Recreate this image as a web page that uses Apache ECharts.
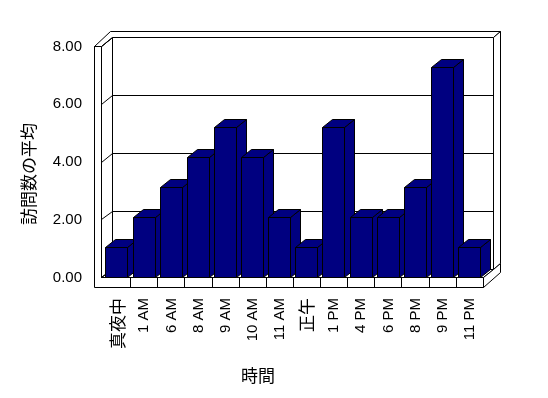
<html>
<head>
<meta charset="utf-8">
<script src="https://cdn.jsdelivr.net/npm/echarts@6/dist/echarts.min.js"></script>
<style>
    body { margin: 0; background: #fff; }
    #chart { width: 548px; height: 398px; }
</style>
</head>
<body>
<div id="chart"></div>
<script>
    // data
    const hours = ['真夜中', '1 AM', '6 AM', '8 AM', '9 AM', '10 AM', '11 AM', '正午', '1 PM', '4 PM', '6 PM', '8 PM', '9 PM', '11 PM'];
    const visits = [1, 2, 3, 4, 5, 4, 2, 1, 5, 2, 2, 3, 7, 1];
    const yTicks = [0, 2, 4, 6, 8];
    const xName = '時間';
    const yName = '訪問数の平均';

    const FONT = "'Liberation Sans', 'Noto Sans CJK JP', sans-serif";
    const CJK = "'Noto Sans CJK JP', sans-serif";
    const NAVY = '#000080';
    const DX = 10, DY = -8;   // depth of a bar

    const yMin = yTicks[0], yMax = yTicks[yTicks.length - 1], yStep = yTicks[1] - yTicks[0];

    const chart = echarts.init(document.getElementById('chart'), null, { renderer: 'canvas' });

    const option = {
        animation: false,
        backgroundColor: '#fff',
        textStyle: { fontFamily: FONT, color: '#000' },
        grid: [
            // bars (middle of the depth)
            { left: 103.6, top: 37.5, width: 379.7, height: 240, outerBoundsMode: 'none' },
            // front edge of the left wall: value labels
            { left: 94, top: 46.5, width: 10, height: 231, outerBoundsMode: 'none' },
            // back wall: grid lines
            { left: 112.5, top: 37.5, width: 381, height: 232, outerBoundsMode: 'none' },
            // only holds the value axis title
            { left: 94, top: 121, width: 10, height: 106, outerBoundsMode: 'none' }
        ],
        xAxis: [
            {
                gridIndex: 0, type: 'category', data: hours,
                axisLine: { show: false }, axisTick: { show: false }, splitLine: { show: false },
                axisLabel: {
                    rotate: 90, margin: 20.5, fontSize: 15, color: '#000', fontFamily: FONT,
                    interval: 0,
                    formatter: function (v) {
                        return /[^\x00-\x7f]/.test(v) ? '{j|' + v + '}' : v
                    },
                    rich: { j: { fontSize: 17, fontFamily: CJK, color: '#000' } }
                },
                name: xName, nameLocation: 'middle', nameGap: 90,
                nameTextStyle: { fontSize: 17, fontFamily: CJK, color: '#000', padding: [0, 71, 0, 0] }
            },
            { gridIndex: 1, type: 'value', min: 0, max: 1, show: false },
            { gridIndex: 2, type: 'value', min: 0, max: 1, show: false },
            { gridIndex: 3, type: 'value', min: 0, max: 1, show: false }
        ],
        yAxis: [
            { gridIndex: 0, type: 'value', min: yMin, max: yMax, interval: yStep, show: false },
            {
                gridIndex: 1, type: 'value', min: yMin, max: yMax, interval: yStep,
                axisLine: { show: false },
                axisTick: { show: true, inside: true, length: 7, lineStyle: { color: '#000' } },
                splitLine: { show: false },
                axisLabel: {
                    margin: 12, fontSize: 15, color: '#000', fontFamily: FONT,
                    formatter: function (v) { return v.toFixed(2) }
                }
            },
            {
                gridIndex: 2, type: 'value', min: yMin, max: yMax, interval: yStep,
                axisLine: { show: false }, axisTick: { show: false }, axisLabel: { show: false },
                splitLine: { show: true, lineStyle: { color: '#000', width: 1 } }
            },
            {
                gridIndex: 3, type: 'value', min: 0, max: 1,
                axisLine: { show: false }, axisTick: { show: false }, axisLabel: { show: false },
                splitLine: { show: false },
                name: yName, nameLocation: 'middle', nameGap: 57, nameRotate: 90,
                nameTextStyle: { fontSize: 17, fontFamily: CJK, color: '#000' }
            }
        ],
        series: [{
            type: 'custom',
            xAxisIndex: 0, yAxisIndex: 0,
            z: 10,
            data: visits.map(function (v, i) { return [i, v] }),
            renderItem: function (params, api) {
                const i = api.value(0), v = api.value(1);
                const base = api.coord([i, 0]);
                const top = api.coord([i, v]);
                const band = api.size([1, 0])[0];
                const x0 = Math.round(base[0] - band / 2 + band * 0.07) + 0.5;
                const x1 = Math.round(x0 + band * 0.8) + 0.5;
                const yb = Math.round(base[1] - 0.5) + 0.5;
                const yt = Math.round(top[1] - 0.5) + 0.5;
                const style = { fill: NAVY, stroke: '#000', lineWidth: 1 };
                return {
                    type: 'group',
                    children: [
                        { type: 'polygon', shape: { points: [[x1, yb], [x1 + DX, yb + DY], [x1 + DX, yt + DY], [x1, yt]] }, style: style },
                        { type: 'polygon', shape: { points: [[x0, yt], [x0 + DX, yt + DY], [x1 + DX, yt + DY], [x1, yt]] }, style: style },
                        { type: 'rect', shape: { x: x0, y: yt, width: x1 - x0, height: yb - yt }, style: style }
                    ]
                };
            }
        }]
    };
    chart.setOption(option);

    // walls and floor, built from the axes
    function drawFrame() {
        const s = function (v) { return Math.round(v - 0.5) + 0.5 };
        const px = function (g, p) { return chart.convertToPixel({ gridIndex: g }, p) };
        const fy = function (v) { return s(px(1, [0, v])[1]) };
        const ky = function (v) { return s(px(2, [0, v])[1]) };

        const L0 = s(px(1, [0, 0])[0]);          // outer front edge of left wall
        const L1 = L0 + 7;                        // inner front edge of left wall
        const K0 = s(px(2, [0, 0])[0]);          // back wall left
        const K1 = s(px(2, [1, 0])[0]);          // back wall right
        const c0 = px(0, [0, 0]), c1 = px(0, [1, 0]);
        const band = c1[0] - c0[0];
        const B0 = c0[0] - band / 2;
        const B1 = s(B0 + band * hours.length);   // front right of floor
        const base = s(c0[1]);
        const floorBot = base + 10;
        const topF = fy(yMax), topK = ky(yMax), baseK = ky(yMin);
        const outTop = topK - 6, outRight = K1 + 7;

        const st = { fill: '#fff', stroke: '#000', lineWidth: 1 };
        const line = { stroke: '#000', lineWidth: 1 };
        const els = [];
        const poly = function (pts) { els.push({ type: 'polygon', z: 1, shape: { points: pts }, style: st }) };
        const seg = function (a, b, c, d) { els.push({ type: 'line', z: 2, shape: { x1: a, y1: b, x2: c, y2: d }, style: line }) };

        // left wall + floor front face
        poly([[L0, topF], [L1, topF], [L1, base], [B1, base], [B1, floorBot], [L0, floorBot]]);
        // left wall inner face
        poly([[L1, topF], [K0, topK], [K0, baseK], [L1, base]]);
        // top edges of left and back wall
        poly([[L0, topF], [L0 + 16, outTop], [outRight, outTop], [K1, topK], [K0, topK], [L1, topF]]);
        // back wall right side
        poly([[K1, topK], [outRight, outTop], [outRight, baseK - 6], [K1, baseK]]);
        // floor top face
        poly([[L1, base], [K0, baseK], [K1, baseK], [B1, base]]);
        // floor right side
        poly([[B1, base], [K1, baseK], [outRight, baseK - 6], [outRight, baseK + 3], [B1, floorBot]]);

        // grid lines across the left wall
        yTicks.forEach(function (v) { seg(L1, fy(v), K0, ky(v)) });
        // dividers on the floor front
        for (let i = 1; i < hours.length; i++) {
            const x = s(B0 + band * i);
            seg(x, base, x, floorBot);
        }
        chart.setOption({ graphic: { elements: els } });
    }
    drawFrame();
</script>
</body>
</html>
